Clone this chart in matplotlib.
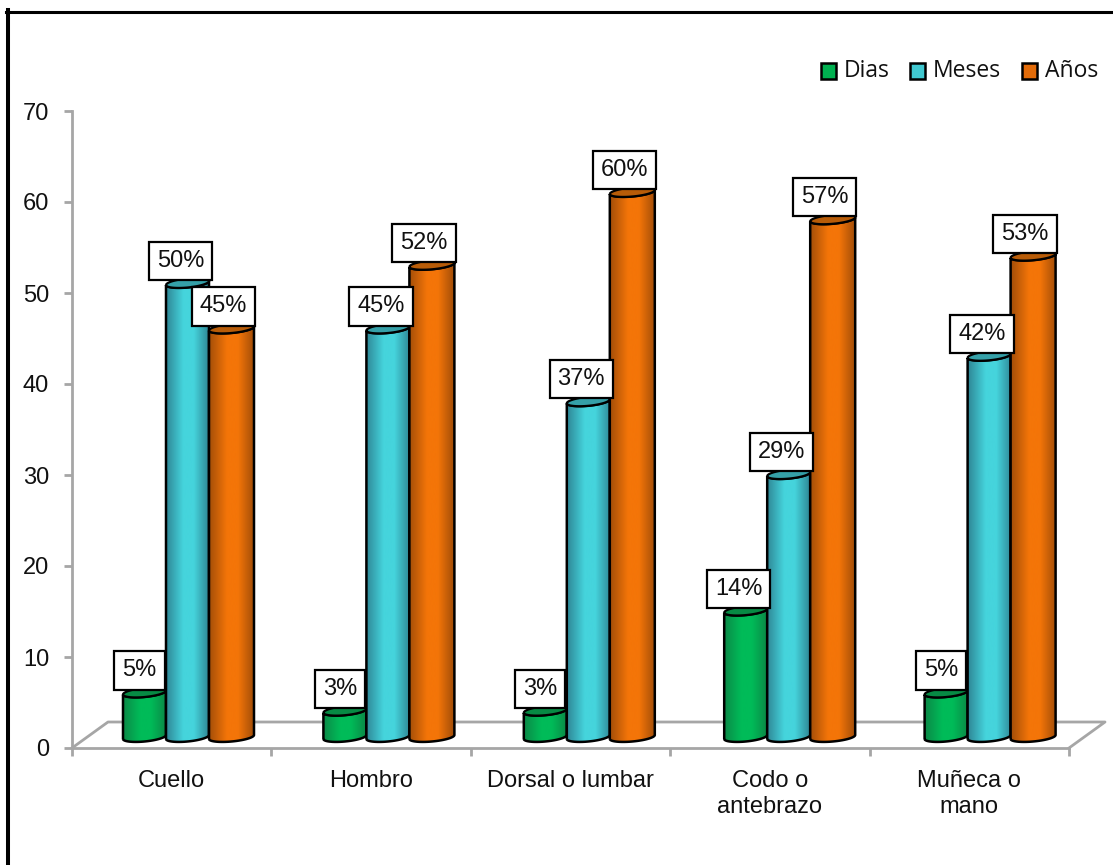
import numpy as np
import matplotlib
matplotlib.use("Agg")
import matplotlib.pyplot as plt
from matplotlib.patches import PathPatch, Rectangle
from matplotlib.path import Path
from matplotlib.colors import LinearSegmentedColormap

categorias = ['Cuello', 'Hombro', 'Dorsal o lumbar', 'Codo o\nantebrazo', 'Muñeca o\nmano']
dias = [5, 3, 3, 14, 5]
meses = [50, 45, 37, 29, 42]
anios = [45, 52, 60, 57, 53]
series = ['Dias', 'Meses', 'Años']
ticks_y = [0, 10, 20, 30, 40, 50, 60, 70]

W, H = 1113, 865
X0, X1, Y0, Y70 = 72, 1069, 748, 111
GRIS = '#a6a6a6'

fig = plt.figure(figsize=(W / 100, H / 100), dpi=100, facecolor='white')
ax = fig.add_axes([X0 / W, 1 - Y0 / H, (X1 - X0) / W, (Y0 - Y70) / H])
ax.set_xlim(0, 5)
ax.set_ylim(0, 70)
ax.patch.set_visible(False)

# pixeles -> unidades de datos
px_x = 5 / (X1 - X0)
px_y = 70 / (Y0 - Y70)

for lado in ['top', 'right']:
    ax.spines[lado].set_visible(False)
for lado in ['left', 'bottom']:
    ax.spines[lado].set_color(GRIS)
    ax.spines[lado].set_linewidth(2)

ax.set_yticks(ticks_y)
ax.set_yticklabels(ticks_y, fontsize=17, family='Liberation Sans', color='#111111')
ax.set_xticks(range(6))
ax.set_xticklabels([''] * 6)
ax.tick_params(axis='both', color=GRIS, width=2, length=5.5)
ax.tick_params(axis='y', pad=11)
for i, cat in enumerate(categorias):
    ax.text(i + 0.5, -22 * px_y, cat, ha='center', va='top', fontsize=17,
            family='Liberation Sans', color='#111111', linespacing=1.24, clip_on=False)

# piso en perspectiva
fondo_x = 36 * px_x
fondo_y = 26 * px_y
ax.plot([0, fondo_x, 5 + fondo_x, 5], [0, fondo_y, fondo_y, 0], color=GRIS, lw=2,
        clip_on=False, zorder=1)

ANCHO = 43 * px_x
ANCHO_ULTIMO = 45 * px_x  # la ultima barra se ve algo mas ancha
INICIO = 51 * px_x
PASO = 1 + 1 * px_x  # los grupos 3D van un poco mas separados que las marcas
BASE = 11 * px_y  # base del cilindro sobre el piso
ALZA = 10 * px_y  # la perspectiva sube la tapa
INCLIN = 2 * px_y
BULTO = 4.5 * px_y


def degradado(oscuro, claro):
    return LinearSegmentedColormap.from_list(
        'c', [(0, oscuro), (0.4, claro), (0.65, claro), (1, oscuro)])


def cuerpo(x, ancho, y_abajo, y_arriba):
    t = np.linspace(0, np.pi, 40)
    cx = x + ancho / 2
    xs = cx - np.cos(t) * ancho / 2
    inclin = -np.cos(t) * INCLIN
    abajo = y_abajo + inclin - np.sin(t) * BULTO
    arriba = y_arriba + inclin - np.sin(t) * BULTO
    xx = np.concatenate([xs, xs[::-1], xs[:1]])
    yy = np.concatenate([abajo, arriba[::-1], abajo[:1]])
    return np.column_stack([xx, yy])


def tapa(x, ancho, y_arriba):
    t = np.linspace(0, 2 * np.pi, 60)
    cx = x + ancho / 2
    xs = cx - np.cos(t) * ancho / 2
    ys = y_arriba - np.cos(t) * INCLIN - np.sin(t) * BULTO
    return np.column_stack([xs, ys])


def cilindro(x, ancho, valor, oscuro, claro, tapa_color, z):
    y_abajo = BASE
    y_arriba = valor + ALZA
    forma = PathPatch(Path(cuerpo(x, ancho, y_abajo, y_arriba)), fc='none', ec='none', zorder=z)
    ax.add_patch(forma)
    grad = np.linspace(0, 1, 128).reshape(1, -1)
    im = ax.imshow(grad, extent=[x, x + ancho, 0, 70], aspect='auto',
                   cmap=degradado(oscuro, claro), zorder=z, clip_on=True)
    im.set_clip_path(forma)
    borde = PathPatch(Path(cuerpo(x, ancho, y_abajo, y_arriba)), fc='none', ec='black',
                      lw=1.8, zorder=z + 0.1, clip_on=False)
    ax.add_patch(borde)
    ax.add_patch(PathPatch(Path(tapa(x, ancho, y_arriba)), fc=tapa_color, ec='black', lw=1.6,
                           zorder=z + 0.2, clip_on=False))


ESTILOS = [('#0b8a47', '#00bb58', '#078a44'),
           ('#2f8796', '#45d4dc', '#35a0a8'),
           ('#a34e08', '#f47508', '#b85c08')]

for i in range(5):
    for j, valores in enumerate([dias, meses, anios]):
        x = i * PASO + INICIO + j * ANCHO
        osc, cla, tap = ESTILOS[j]
        ancho = ANCHO_ULTIMO if j == 2 else ANCHO
        cilindro(x, ancho, valores[i], osc, cla, tap, 3 + j * 0.5)

ax.set_xlim(0, 5)
ax.set_ylim(0, 70)

for i in range(5):
    for j, valores in enumerate([dias, meses, anios]):
        x = i * PASO + INICIO + j * ANCHO + ANCHO / 2
        dx = -5 if valores[i] < 10 else -7
        ax.annotate(f'{valores[i]}%', (x, valores[i] + ALZA), xytext=(dx, 22),
                    textcoords='offset pixels', ha='center', va='center', fontsize=17,
                    family='Liberation Sans', color='#111111', zorder=8, annotation_clip=False,
                    bbox=dict(boxstyle='square,pad=0.34', fc='white', ec='black', lw=1.6))

# leyenda
leg_x = [821, 910, 1022]
leg_txt = [844, 933, 1045]
colores = ['#00b050', '#40c8d0', '#e36c0a']
for xp, xt, col, nombre in zip(leg_x, leg_txt, colores, series):
    fig.add_artist(Rectangle((xp / W, 1 - 78.5 / H), 15 / W, 15 / H, fc=col, ec='black', lw=1.8,
                             transform=fig.transFigure))
    fig.text(xt / W, 1 - 71 / H, nombre, fontsize=16.5, family='Open Sans', color='#111111',
             ha='left', va='center')

# marco
fig.add_artist(plt.Line2D([8 / W, 8 / W], [0, 1 - 10 / H], color='black', lw=2.9))
fig.add_artist(plt.Line2D([6 / W, 1], [1 - 11.5 / H, 1 - 11.5 / H], color='black', lw=2.2))

fig.savefig('out.png', dpi=100)
